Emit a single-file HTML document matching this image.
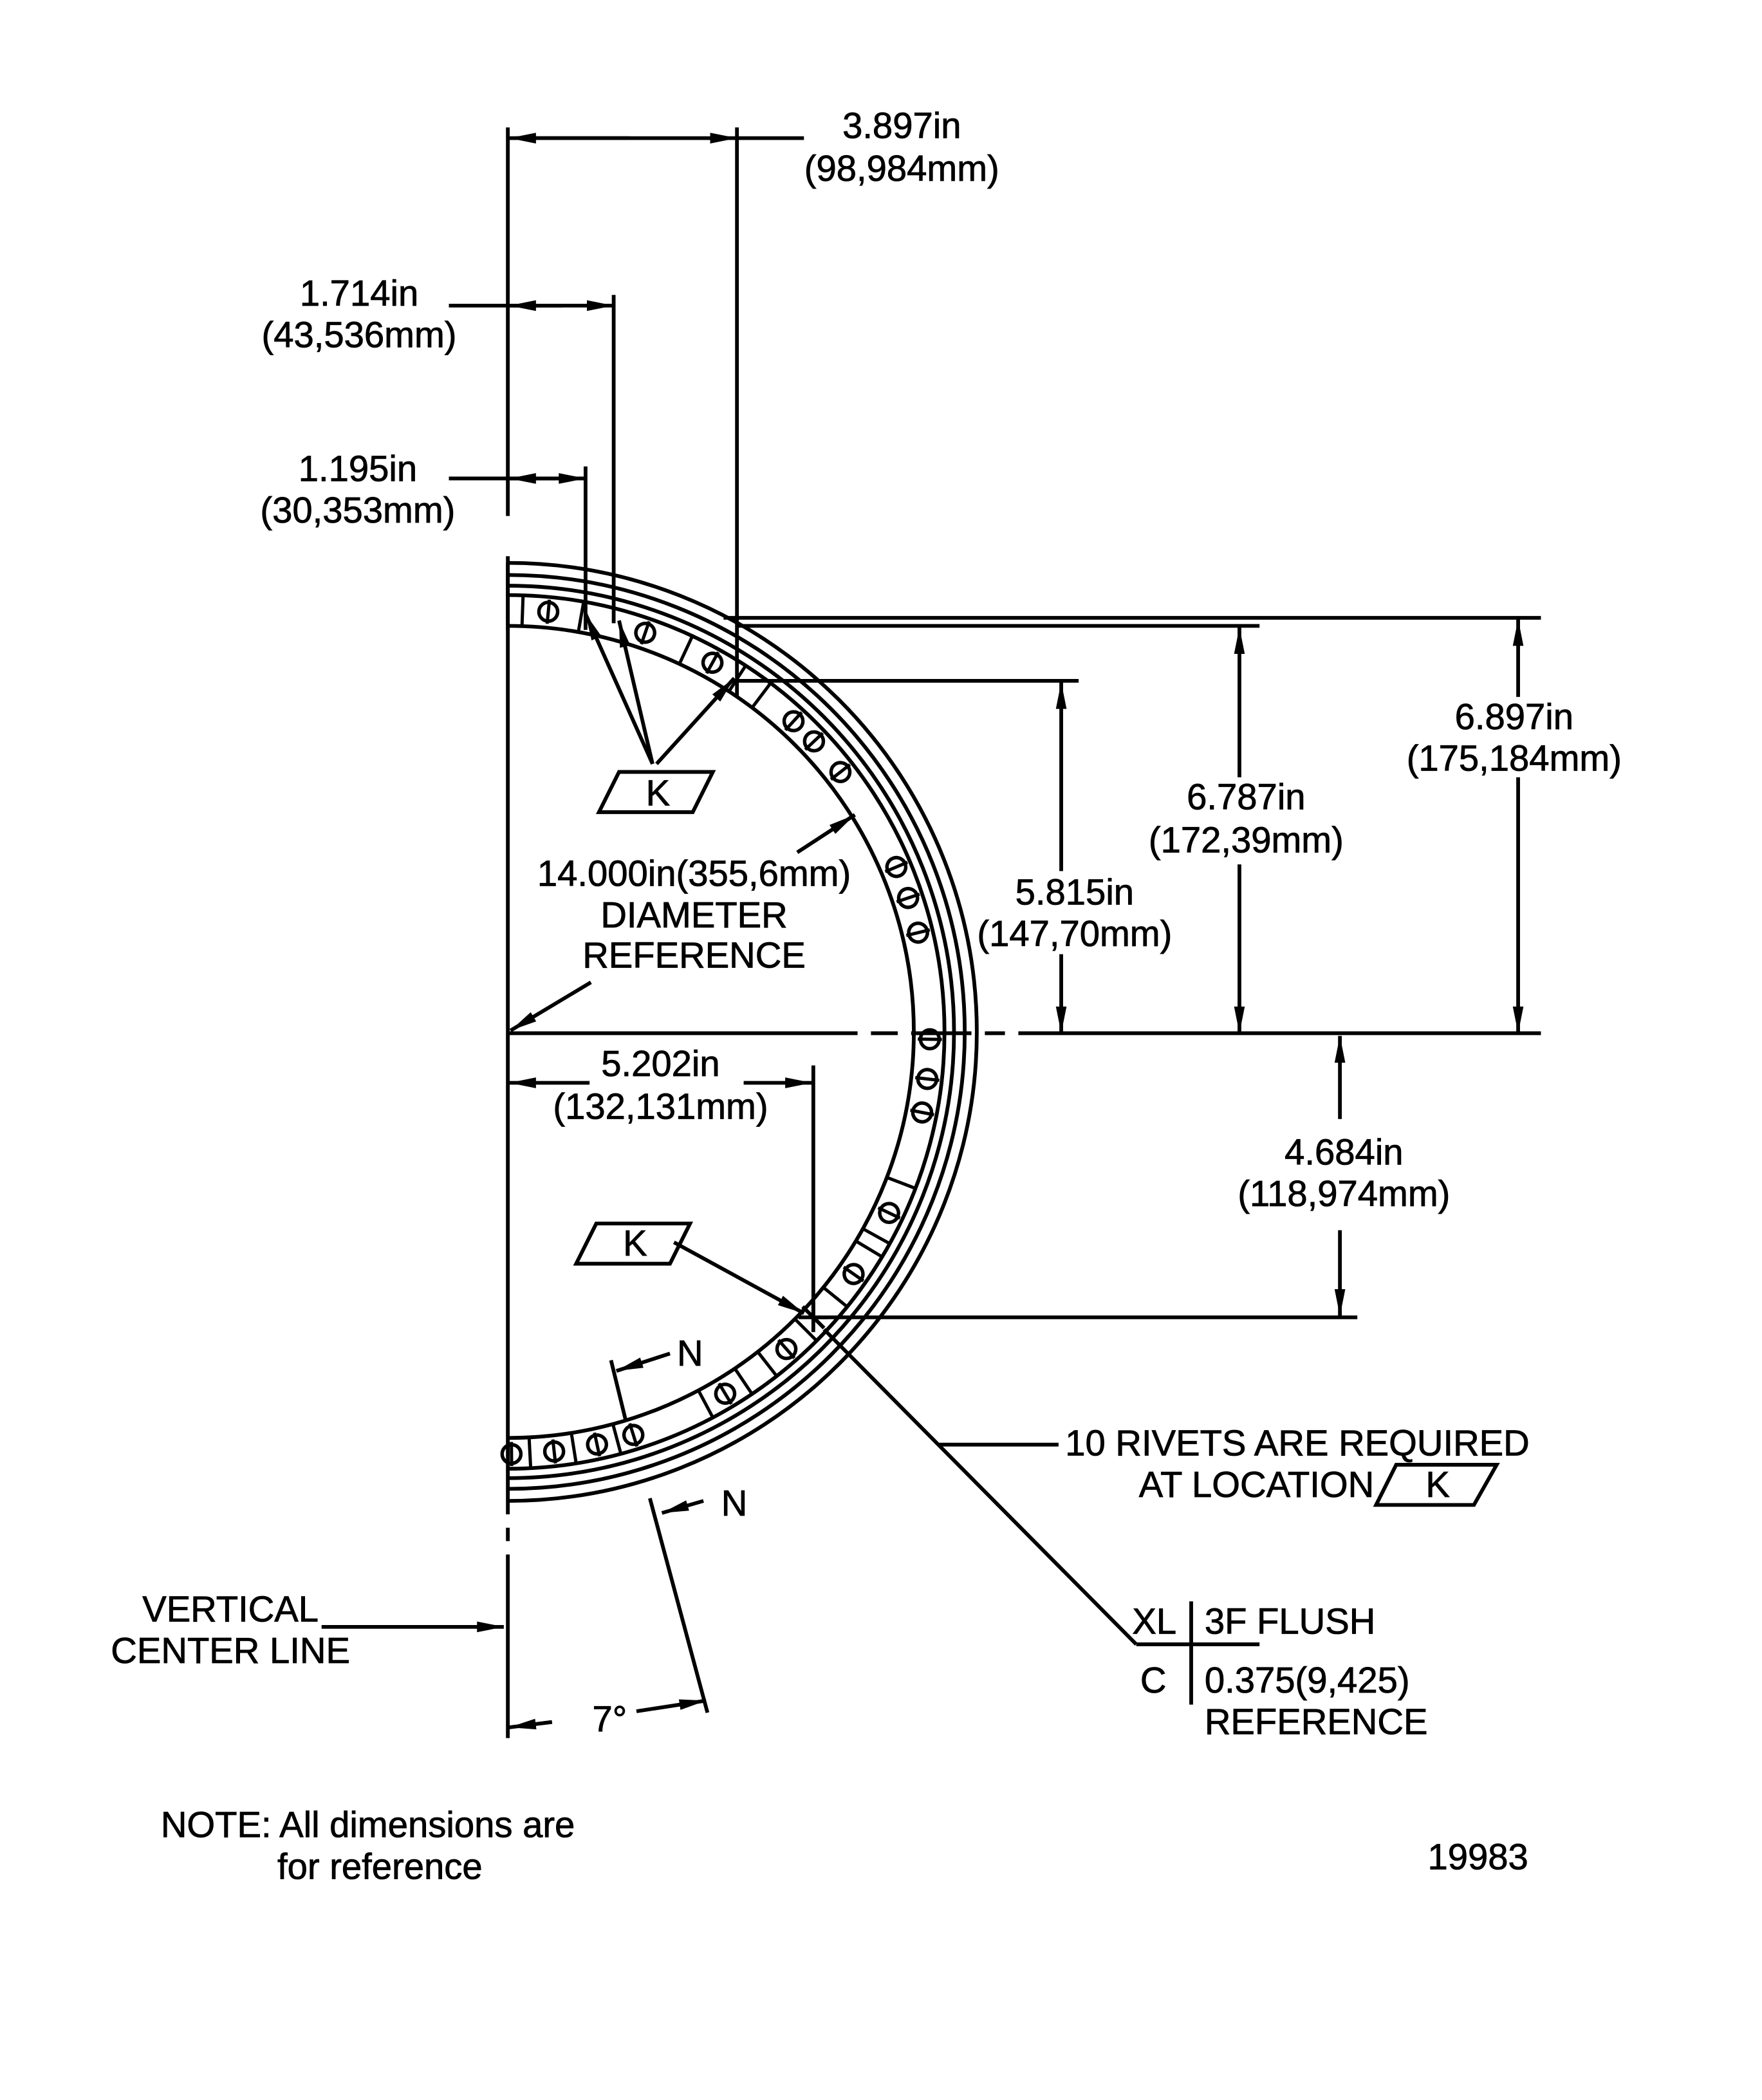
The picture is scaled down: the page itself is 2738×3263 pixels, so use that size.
<!DOCTYPE html>
<html><head><meta charset="utf-8"><style>
html,body{margin:0;padding:0;background:#fff;}
svg{display:block;}
text{font-family:"Liberation Sans",sans-serif;font-size:27px;fill:#000;stroke:#000;stroke-width:0.4;}
</style></head><body>
<svg width="2738" height="3263" viewBox="0 0 1315 1567" xmlns="http://www.w3.org/2000/svg">
<defs>
<marker id="a" viewBox="0 0 20 8" refX="20" refY="4" markerWidth="20" markerHeight="8" markerUnits="userSpaceOnUse" orient="auto"><path d="M0,0 L20,4 L0,8 Z" fill="#000"/></marker>
<g id="rv"><circle cx="379" cy="455" r="7" fill="none" stroke="#000" stroke-width="2.6"/><line x1="379" y1="446" x2="379" y2="464" stroke="#000" stroke-width="2.4"/></g>
<g id="tk"><line x1="379" y1="444" x2="379" y2="467" stroke="#000" stroke-width="2.4"/></g>
</defs>
<g fill="none" stroke="#000" stroke-width="2.8">
<path d="M379,467 A303,303 0 0 1 379,1073"/>
<path d="M379,444 A326,326 0 0 1 379,1096"/>
<path d="M379,437 A333,333 0 0 1 379,1103"/>
<path d="M379,429 A341,341 0 0 1 379,1111"/>
<path d="M379,420 A350,350 0 0 1 379,1120"/>
<line x1="379" y1="95" x2="379" y2="385"/>
<line x1="379" y1="415" x2="379" y2="1130"/>
<line x1="379" y1="1140" x2="379" y2="1150"/>
<line x1="379" y1="1160" x2="379" y2="1297"/>
<line x1="379" y1="771" x2="640" y2="771"/>
<line x1="650" y1="771" x2="670" y2="771"/>
<line x1="680" y1="771" x2="725" y2="771"/>
<line x1="735" y1="771" x2="750" y2="771"/>
<line x1="760" y1="771" x2="1150" y2="771"/>
<line x1="550" y1="95" x2="550" y2="520"/>
<line x1="458" y1="220" x2="458" y2="465"/>
<line x1="437" y1="348" x2="437" y2="470"/>
<line x1="385" y1="103" x2="550" y2="103" marker-end="url(#a)"/>
<line x1="470" y1="103" x2="380" y2="103" marker-end="url(#a)"/>
<line x1="550" y1="103" x2="600" y2="103"/>
<line x1="335" y1="228" x2="458" y2="228" marker-end="url(#a)"/>
<line x1="420" y1="228" x2="380" y2="228" marker-end="url(#a)"/>
<line x1="335" y1="357" x2="437" y2="357" marker-end="url(#a)"/>
<line x1="415" y1="357" x2="380" y2="357" marker-end="url(#a)"/>
<line x1="540" y1="461" x2="1150" y2="461"/>
<line x1="550" y1="467" x2="940" y2="467"/>
<line x1="550" y1="508" x2="805" y2="508"/>
<line x1="605" y1="983" x2="1013" y2="983"/>
<line x1="792" y1="650" x2="792" y2="509" marker-end="url(#a)"/>
<line x1="792" y1="712" x2="792" y2="771" marker-end="url(#a)"/>
<line x1="925" y1="580" x2="925" y2="468" marker-end="url(#a)"/>
<line x1="925" y1="645" x2="925" y2="771" marker-end="url(#a)"/>
<line x1="1133" y1="520" x2="1133" y2="462" marker-end="url(#a)"/>
<line x1="1133" y1="580" x2="1133" y2="771" marker-end="url(#a)"/>
<line x1="1000" y1="835" x2="1000" y2="773" marker-end="url(#a)"/>
<line x1="1000" y1="918" x2="1000" y2="982" marker-end="url(#a)"/>
<line x1="607" y1="795" x2="607" y2="985"/>
<line x1="440" y1="808" x2="380" y2="808" marker-end="url(#a)"/>
<line x1="555" y1="808" x2="606" y2="808" marker-end="url(#a)"/>
<path d="M462,576 L532,576 L517,606 L447,606 Z"/>
<line x1="487" y1="570" x2="437" y2="458" marker-end="url(#a)"/>
<line x1="487" y1="570" x2="462" y2="463" marker-end="url(#a)"/>
<line x1="490" y1="570" x2="548" y2="506" marker-end="url(#a)"/>
<path d="M445,913 L515,913 L500,943 L430,943 Z"/>
<line x1="503" y1="927" x2="600" y2="980" marker-end="url(#a)"/>
<line x1="595" y1="636" x2="638" y2="608" marker-end="url(#a)"/>
<line x1="441" y1="733" x2="381" y2="769" marker-end="url(#a)"/>
<line x1="607" y1="972" x2="607" y2="994"/>
<line x1="596" y1="983" x2="618" y2="983"/>
<line x1="599" y1="975" x2="615" y2="991"/>
<line x1="615" y1="992" x2="848" y2="1227"/>
<line x1="848" y1="1227" x2="940" y2="1227"/>
<line x1="889" y1="1195" x2="889" y2="1272"/>
<line x1="700" y1="1078" x2="790" y2="1078"/>
<path d="M1042,1093 L1117,1093 L1100,1123 L1027,1123 Z"/>
<line x1="456" y1="1015" x2="467" y2="1060"/>
<line x1="500" y1="1010" x2="460" y2="1023" marker-end="url(#a)"/>
<line x1="485" y1="1118" x2="528" y2="1278"/>
<line x1="525" y1="1120" x2="494" y2="1129" marker-end="url(#a)"/>
<line x1="412" y1="1285" x2="380" y2="1289" marker-end="url(#a)"/>
<line x1="475" y1="1277" x2="527" y2="1269" marker-end="url(#a)"/>
<line x1="240" y1="1214" x2="376" y2="1214" marker-end="url(#a)"/>
<line x1="379" y1="420" x2="379" y2="470"/>
</g>
<use href="#rv" transform="rotate(5.5 379 770)"/>
<use href="#rv" transform="rotate(19 379 770)"/>
<use href="#rv" transform="rotate(29 379 770)"/>
<use href="#rv" transform="rotate(42.6 379 770)"/>
<use href="#rv" transform="rotate(46.5 379 770)"/>
<use href="#rv" transform="rotate(52 379 770)"/>
<use href="#rv" transform="rotate(67 379 770)"/>
<use href="#rv" transform="rotate(71.5 379 770)"/>
<use href="#rv" transform="rotate(76.4 379 770)"/>
<use href="#rv" transform="rotate(91 379 770)"/>
<use href="#rv" transform="rotate(96.4 379 770)"/>
<use href="#rv" transform="rotate(101 379 770)"/>
<use href="#rv" transform="rotate(115.4 379 770)"/>
<use href="#rv" transform="rotate(125 379 770)"/>
<use href="#rv" transform="rotate(138.7 379 770)"/>
<use href="#rv" transform="rotate(149 379 770)"/>
<use href="#rv" transform="rotate(162.7 379 770)"/>
<use href="#rv" transform="rotate(167.8 379 770)"/>
<use href="#rv" transform="rotate(173.7 379 770)"/>
<use href="#rv" transform="rotate(179.5 379 770)"/>
<use href="#tk" transform="rotate(2 379 770)"/>
<use href="#tk" transform="rotate(10 379 770)"/>
<use href="#tk" transform="rotate(25 379 770)"/>
<use href="#tk" transform="rotate(33 379 770)"/>
<use href="#tk" transform="rotate(37 379 770)"/>
<use href="#tk" transform="rotate(111 379 770)"/>
<use href="#tk" transform="rotate(119 379 770)"/>
<use href="#tk" transform="rotate(121 379 770)"/>
<use href="#tk" transform="rotate(129 379 770)"/>
<use href="#tk" transform="rotate(135 379 770)"/>
<use href="#tk" transform="rotate(142 379 770)"/>
<use href="#tk" transform="rotate(146 379 770)"/>
<use href="#tk" transform="rotate(152 379 770)"/>
<use href="#tk" transform="rotate(165 379 770)"/>
<use href="#tk" transform="rotate(171 379 770)"/>
<use href="#tk" transform="rotate(177 379 770)"/>
<g text-anchor="middle">
<text x="673" y="103">3.897in</text>
<text x="673" y="135">(98,984mm)</text>
<text x="268" y="228">1.714in</text>
<text x="268" y="259">(43,536mm)</text>
<text x="267" y="359">1.195in</text>
<text x="267" y="390">(30,353mm)</text>
<text x="1130" y="544">6.897in</text>
<text x="1130" y="575">(175,184mm)</text>
<text x="930" y="604">6.787in</text>
<text x="930" y="636">(172,39mm)</text>
<text x="802" y="675">5.815in</text>
<text x="802" y="706">(147,70mm)</text>
<text x="518" y="661">14.000in(355,6mm)</text>
<text x="518" y="692">DIAMETER</text>
<text x="518" y="722">REFERENCE</text>
<text x="493" y="803">5.202in</text>
<text x="493" y="835">(132,131mm)</text>
<text x="1003" y="869">4.684in</text>
<text x="1003" y="900">(118,974mm)</text>
<text x="491" y="601">K</text>
<text x="474" y="937">K</text>
<text x="1073" y="1117">K</text>
<text x="515" y="1019">N</text>
<text x="548" y="1131">N</text>
<text x="455" y="1292">7°</text>
<text x="172" y="1210">VERTICAL</text>
<text x="172" y="1241">CENTER LINE</text>
<text x="1103" y="1395">19983</text>
</g>
<text x="795" y="1086">10 RIVETS ARE REQUIRED</text>
<text x="850" y="1117">AT LOCATION</text>
<text x="845" y="1219">XL</text>
<text x="899" y="1219">3F FLUSH</text>
<text x="851" y="1263">C</text>
<text x="899" y="1263">0.375(9,425)</text>
<text x="899" y="1294">REFERENCE</text>
<text x="120" y="1371">NOTE: All dimensions are</text>
<text x="207" y="1402">for reference</text>
</svg>
</body></html>
